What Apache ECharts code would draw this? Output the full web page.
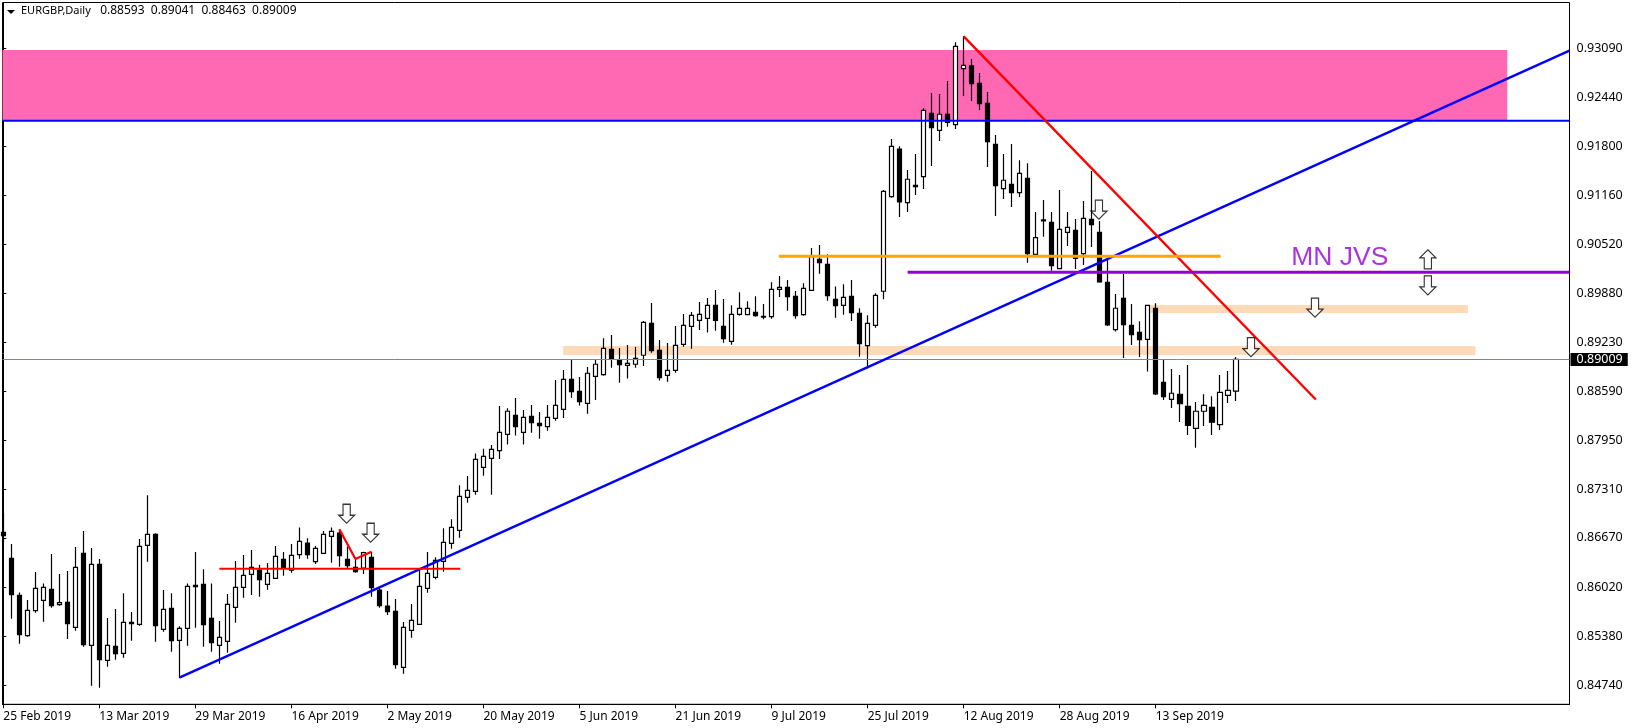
<!DOCTYPE html>
<html><head><meta charset="utf-8">
<style>html,body{margin:0;padding:0;background:#fff}#c{width:1633px;height:728px}</style>
<script src="https://cdn.jsdelivr.net/npm/echarts@6/dist/echarts.min.js"></script>
</head><body><div id="c"></div>
<script>
const opens=[.86742,.86401,.85916,.85387,.85715,.85851,.85995,.85794,.85824,.85497,
.86467,.85261,.86322,.85064,.85248,.85156,.85562,.85536,.86571,.86716,
.85470,.85746,.85326,.85484,.86047,.86060,.85615,.85261,.85313,.85759,
.86021,.86191,.86248,.86060,.86139,.86388,.86248,.86449,.86602,.86357,
.86467,.86689,.86733,.86388,.86283,.86274,.86414,.85986,.85776,.85706,
.84972,.85457,.85536,.86008,.86152,.86362,.86598,.86768,.87201,.87279,
.87594,.87712,.87813,.88027,.88276,.88053,.88263,.88171,.88128,.88237,
.88355,.88748,.88591,.88433,.88787,.88809,.89141,.88997,.88931,.88945,
.89063,.89482,.89128,.88800,.88866,.89207,.89443,.89521,.89547,.89718,
.89442,.89246,.89599,.89595,.89626,.89573,.89569,.89927,.89953,.89835,
.89595,.89914,.90320,.90255,.89796,.89717,.89835,.89613,.89189,.89455,
.89902,.91142,.91767,.91064,.91291,.91405,.92235,.92012,.92222,.92086,
.92820,.92855,.92628,.92366,.91828,.91247,.91304,.91195,.91383,.90386,
.90837,.90806,.90199,.90675,.90701,.90395,.90845,.90675,.90020,.89399,
.89810,.89456,.89364,.89272,.89679,.88709,.88486,.88552,.88394,.88106,
.88329,.88381,.88153,.88538,.88593];
const closes=[.86698,.85925,.85401,.85719,.86008,.86021,.85781,.85820,.85545,.86283,
.85269,.86322,.85073,.85261,.85151,.85562,.85545,.86558,.86716,.85518,
.85733,.85322,.85484,.86034,.86030,.85532,.85296,.85366,.85798,.86021,
.86178,.86283,.86121,.86204,.86427,.86270,.86440,.86624,.86449,.86532,
.86716,.86755,.86436,.86305,.86226,.86475,.86017,.85781,.85702,.85007,
.85497,.85588,.86034,.86204,.86375,.86611,.86807,.87214,.87292,.87699,
.87738,.87830,.88053,.88329,.88128,.88250,.88180,.88141,.88250,.88407,
.88748,.88586,.88455,.88827,.88945,.89154,.89010,.88940,.88958,.89023,
.89495,.89124,.88770,.88866,.89194,.89456,.89587,.89600,.89718,.89521,
.89280,.89599,.89678,.89678,.89582,.89564,.89927,.89953,.89831,.89582,
.89940,.90355,.90277,.89844,.89713,.89822,.89621,.89215,.89481,.89848,
.91212,.91802,.91073,.91370,.91274,.92274,.92047,.92222,.92117,.93113,
.92864,.92624,.92361,.91863,.91287,.91357,.91195,.91448,.90395,.90605,
.90823,.90238,.90714,.90740,.90334,.90858,.90775,.90024,.89460,.89679,
.89465,.89334,.89268,.89718,.88556,.88521,.88565,.88429,.88145,.88329,
.88407,.88185,.88577,.88603,.89009];
const highs=[.86991,.86589,.85955,.85855,.86222,.86073,.86458,.86196,.86235,.86550,
.86759,.86536,.86392,.85619,.85737,.85942,.85698,.86654,.87227,.86729,
.85986,.85942,.85510,.86073,.86484,.86257,.86073,.85580,.85934,.86366,
.86445,.86510,.86314,.86340,.86563,.86484,.86589,.86807,.86663,.86563,
.86759,.86807,.86781,.86554,.86388,.86488,.86488,.86030,.85973,.85868,
.85567,.85802,.86257,.86484,.86414,.86794,.86912,.87358,.87480,.87777,
.87838,.87886,.88398,.88368,.88503,.88346,.88412,.88320,.88412,.88739,
.88870,.89014,.88779,.88910,.89014,.89285,.89329,.89159,.89198,.89172,
.89513,.89748,.89264,.89224,.89447,.89604,.89631,.89762,.89814,.89919,
.89800,.89717,.89888,.89770,.89835,.89735,.90019,.90102,.90049,.89905,
.90006,.90469,.90508,.90386,.89966,.89993,.90049,.89678,.89586,.89875,
.91230,.91898,.91802,.91492,.91702,.92300,.92501,.92488,.92659,.93165,
.93244,.92947,.92763,.92514,.91951,.91702,.91833,.91619,.91579,.90941,
.91099,.90941,.91230,.90941,.90850,.91086,.91479,.90823,.90312,.89867,
.90129,.89736,.89508,.89725,.89744,.89010,.88884,.88805,.88936,.88451,
.88552,.88525,.88804,.88857,.89041];
const lows=[.86606,.85610,.85283,.85374,.85689,.85571,.85754,.85781,.85344,.85453,
.85243,.84732,.84706,.84981,.85073,.85099,.85322,.85518,.86357,.85309,
.85440,.85178,.84833,.85256,.85492,.85243,.85178,.85020,.85165,.85558,
.85885,.85920,.85899,.85990,.86130,.86174,.86213,.86397,.86397,.86327,
.86460,.86344,.86292,.86270,.86213,.86196,.85899,.85754,.85658,.84955,
.84890,.85361,.85530,.85951,.86126,.86226,.86528,.86672,.87131,.87235,
.87485,.87235,.87704,.87892,.88010,.87892,.88049,.87970,.88075,.88206,
.88241,.88503,.88403,.88298,.88477,.88796,.88901,.88704,.88757,.88901,
.88923,.89097,.88731,.88717,.88835,.89176,.89150,.89395,.89360,.89386,
.89228,.89202,.89582,.89586,.89569,.89534,.89543,.89827,.89648,.89543,
.89582,.89905,.90132,.89779,.89556,.89595,.89512,.89045,.88892,.89425,
.89797,.91129,.90876,.90942,.91164,.91243,.91544,.91872,.92060,.92029,
.92462,.92396,.92278,.91531,.90889,.91112,.91007,.91138,.90277,.90378,
.90618,.90172,.90190,.90496,.90194,.90247,.90483,.90015,.89447,.89373,
.89028,.89198,.89041,.88849,.88543,.88477,.88372,.88189,.88019,.87852,
.88136,.88019,.88083,.88437,.88463];
const dateLabels=['25 Feb 2019','13 Mar 2019','29 Mar 2019','16 Apr 2019','2 May 2019','20 May 2019','5 Jun 2019','21 Jun 2019','9 Jul 2019','25 Jul 2019','12 Aug 2019','28 Aug 2019','13 Sep 2019'];
const dateTicks=[0,12,24,36,48,60,72,84,96,108,120,132,144];
const priceTicks=[.93090,.92440,.91800,.91160,.90520,.89880,.89230,.88590,.87950,.87310,.86670,.86020,.85380,.84740];
const lastPrice=.89009;
const pinkZone=[[-0.1,.93065],[187.93,.92138]];
const peachLow=[[69.95,.89185],[183.95,.89067]];
const peachHigh=[[143.3,.89722],[183,.89617]];
const blueTrend=[[22,.84837],[195.7,.93055]];
const blueLevel=[[-0.1,.92138],[195.7,.92138]];
const redTrend=[[120,.93244],[164,.88483]];
const redLevel=[[27,.86265],[57.1,.86265]];
const redZigzag=[[42,.86782],[44,.86393],[46,.86488]];
const orangeLevel=[[96.9,.90360],[152.1,.90360]];
const purpleLevel=[[113,.90151],[195.7,.90151]];
const downArrows=[[42.9,.86986],[45.9,.86737],[136.9,.90971],[163.9,.89687],[155.9,.89169],[178,.89978]];
const upArrows=[[178,.90320]];
const noteText=[[167,.90338]];
const headerName='EURGBP,Daily';
const headerPrices='   0.88593  0.89041  0.88463  0.89009';

const candles=opens.map((o,i)=>[i,o,closes[i],lows[i],highs[i]]);
const font='"Noto Sans"';
const xMin=-0.1,xMax=195.7,yMin=.84488,yMax=.93687;
function level(name,data,color,width){return {name,type:'line',data,z:5,showSymbol:false,symbol:'none',silent:true,animation:false,lineStyle:{color,width,cap:'butt'}};}
const downPath='path://M4.4 0H11.6V11H16L8 19L0 11H4.4Z';
const upPath='path://M8 0L16 8H11.6V19H4.4V8H0Z';
const chart=echarts.init(document.getElementById('c'),null,{renderer:'canvas'});
chart.setOption({
 animation:false,backgroundColor:'#fff',
 title:{text:'{a|'+headerName+'}{b|'+headerPrices+'}',left:21,top:5,padding:0,
  textStyle:{fontFamily:font,fontWeight:'normal',fontSize:12,color:'#000',
   rich:{a:{fontFamily:font,fontSize:11,color:'#000'},b:{fontFamily:font,fontSize:12,color:'#000'}}}},
 graphic:[{type:'polygon',shape:{points:[[7,10],[15,10],[11,14]]},style:{fill:'#000'}}],
 grid:{left:2.5,right:63.5,top:2.5,bottom:23.7,show:true,borderColor:'#000',borderWidth:1,backgroundColor:'#fff'},
 xAxis:{type:'value',min:xMin,max:xMax,splitLine:{show:false},
  axisLine:{show:true,lineStyle:{color:'#000',width:1}},
  axisTick:{show:true,length:4,customValues:dateTicks,lineStyle:{color:'#000'}},
  axisLabel:{customValues:dateTicks,margin:6,align:'left',fontFamily:font,fontSize:12,color:'#000',
   formatter:v=>dateLabels[dateTicks.indexOf(Math.round(v))]||''}},
 yAxis:{type:'value',position:'right',min:yMin,max:yMax,splitLine:{show:false},
  axisLine:{show:true,lineStyle:{color:'#000',width:1}},
  axisTick:{show:true,length:3,customValues:priceTicks,lineStyle:{color:'#000'}},
  axisLabel:{customValues:priceTicks,margin:7,padding:[2,0,0,0],fontFamily:font,fontSize:12.5,color:'#000',formatter:v=>v.toFixed(5)}},
 series:[
  {name:'zones',type:'line',data:[],z:1,silent:true,
   markArea:{silent:true,z:1,data:[
    [{coord:pinkZone[0],itemStyle:{color:'#ff69b4',opacity:1}},{coord:pinkZone[1]}],
    [{coord:peachLow[0],itemStyle:{color:'#ffdab9',opacity:1}},{coord:peachLow[1]}],
    [{coord:peachHigh[0],itemStyle:{color:'#ffdab9',opacity:1}},{coord:peachHigh[1]}]
   ]}},
  {name:'EURGBP',type:'candlestick',data:candles,encode:{x:0,y:[1,2,3,4]},barWidth:5,z:3,silent:true,clip:true,
   itemStyle:{color:'#fff',color0:'#000',borderColor:'#000',borderColor0:'#000',borderWidth:1.2},
   markLine:{silent:true,symbol:'none',z:4,precision:5,
    lineStyle:{color:'#778899',width:1,type:'solid'},
    label:{show:true,position:'end',distance:1,formatter:()=>lastPrice.toFixed(5),backgroundColor:'#000',color:'#fff',
     fontFamily:font,fontSize:12.5,padding:[0,5,0,6],lineHeight:13},
    data:[{yAxis:lastPrice}]}},
  level('blueLevel',blueLevel,'#0000ff',2),
  level('blueTrend',blueTrend,'#0000ff',2.4),
  level('redTrend',redTrend,'#ff0000',2.4),
  level('redLevel',redLevel,'#ff0000',2),
  level('redZigzag',redZigzag,'#ff0000',2.2),
  level('orangeLevel',orangeLevel,'#ffa500',3),
  level('purpleLevel',purpleLevel,'#9400d3',3),
  {name:'down',type:'scatter',data:downArrows,symbol:downPath,symbolSize:[16,19],z:6,silent:true,
   itemStyle:{color:'#fff',borderColor:'#000',borderWidth:1.2}},
  {name:'up',type:'scatter',data:upArrows,symbol:upPath,symbolSize:[16,19],z:6,silent:true,
   itemStyle:{color:'#fff',borderColor:'#000',borderWidth:1.2}},
  {name:'note',type:'scatter',data:noteText,symbolSize:0,z:6,silent:true,
   label:{show:true,position:'inside',formatter:'MN JVS',fontFamily:'"Liberation Sans"',fontSize:26.5,color:'#9400d3'}}
 ]
});
</script></body></html>
